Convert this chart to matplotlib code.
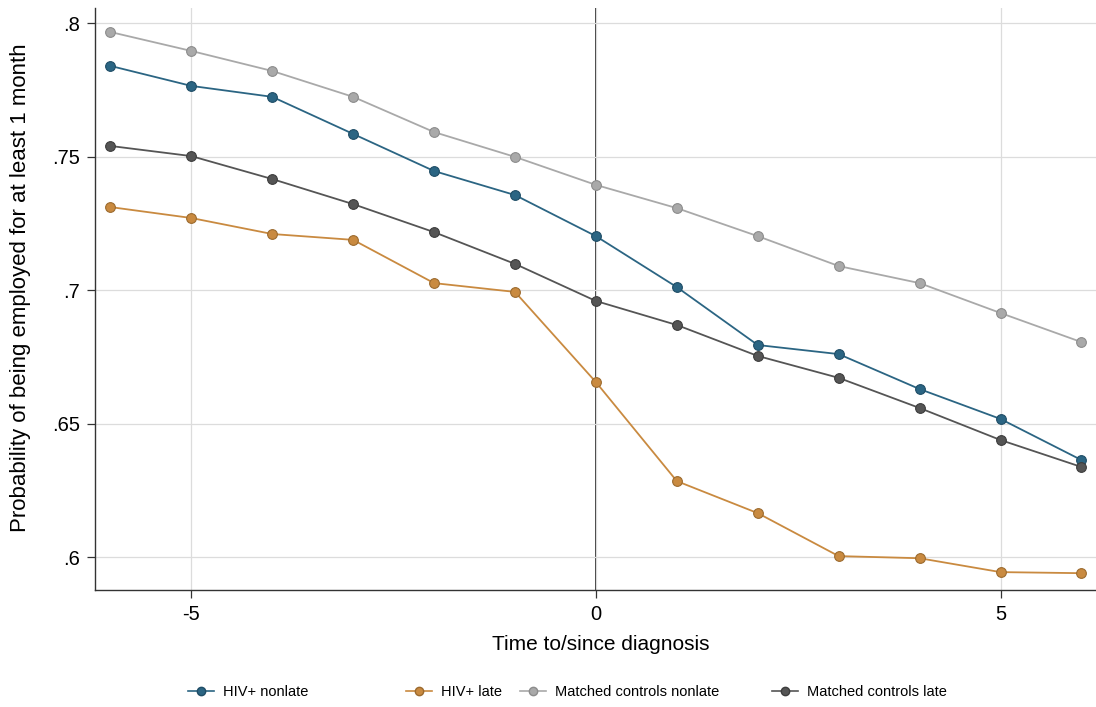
import matplotlib.pyplot as plt
from matplotlib.lines import Line2D

plt.rcParams['font.family'] = ['Liberation Sans', 'DejaVu Sans']

# time to/since diagnosis (years)
years = [-6, -5, -4, -3, -2, -1, 0, 1, 2, 3, 4, 5, 6]

hiv_nonlate = [0.7841, 0.7766, 0.7725, 0.7586, 0.7447, 0.7357, 0.7203,
               0.7012, 0.6795, 0.6761, 0.6630, 0.6518, 0.6364]
hiv_late = [0.7312, 0.7271, 0.7211, 0.7189, 0.7027, 0.6994, 0.6656,
            0.6285, 0.6165, 0.6004, 0.5996, 0.5944, 0.5940]
ctrl_nonlate = [0.7968, 0.7897, 0.7822, 0.7725, 0.7593, 0.7500, 0.7395,
                0.7308, 0.7203, 0.7091, 0.7027, 0.6915, 0.6806]
ctrl_late = [0.7541, 0.7503, 0.7417, 0.7323, 0.7218, 0.7099, 0.6960,
             0.6870, 0.6754, 0.6672, 0.6559, 0.6439, 0.6338]

labels = ['HIV+ nonlate', 'HIV+ late', 'Matched controls nonlate', 'Matched controls late']
colors = ['#2b6583', '#c98a40', '#a9a9a9', '#555555']
edges = ['#1f4d66', '#9c6a2e', '#8c8c8c', '#3d3d3d']

fig = plt.figure(figsize=(10.96, 7.07), dpi=100)
ax = fig.add_axes([0.0867, 0.1655, 0.9133, 0.8232])

ax.grid(True, color='#dcdcdc', linewidth=0.9, zorder=0)
ax.axvline(0, color='black', linewidth=1.1, zorder=1)

series = [hiv_nonlate, hiv_late, ctrl_nonlate, ctrl_late]
order = [2, 0, 3, 1]
for i in order:
    ax.plot(years, series[i], color=colors[i], linewidth=1.3, marker='o',
            markersize=7, markerfacecolor=colors[i], markeredgecolor=edges[i],
            markeredgewidth=0.8, zorder=3)

ax.set_xlim(-6.19, 6.18)
ax.set_ylim(0.5877, 0.8058)
ax.set_xticks([-5, 0, 5])
ax.set_xticklabels(['-5', '0', '5'])
ax.set_yticks([0.6, 0.65, 0.7, 0.75, 0.8])
ax.set_yticklabels(['.6', '.65', '.7', '.75', '.8'])
ax.tick_params(axis='both', labelsize=14.5, length=6, width=0.9, color='#333333', pad=5)

for s in ['top', 'right']:
    ax.spines[s].set_visible(False)
for s in ['left', 'bottom']:
    ax.spines[s].set_color('#333333')
    ax.spines[s].set_linewidth(1.0)

ax.set_xlabel('Time to/since diagnosis', fontsize=15, ha='center', va='center')
ax.xaxis.set_label_coords(0.505, -0.0945)
ax.set_ylabel('Probability of being employed for at least 1 month', fontsize=16,
              ha='center', va='center')
ax.yaxis.set_label_coords(-0.074, 0.52)

# legend entries placed one by one along the bottom
leg_x = [188, 406, 520, 772]
for i in range(4):
    h = Line2D([], [], color=colors[i], marker='o', markersize=6,
               markerfacecolor=colors[i], markeredgecolor=edges[i], linewidth=1.2)
    fig.legend([h], [labels[i]], loc='center left',
               bbox_to_anchor=(leg_x[i] / 1096, 0.021), frameon=False,
               fontsize=10.5, handlelength=1.8, handletextpad=0.6,
               borderpad=0, borderaxespad=0)

fig.savefig('out.png', dpi=100)
